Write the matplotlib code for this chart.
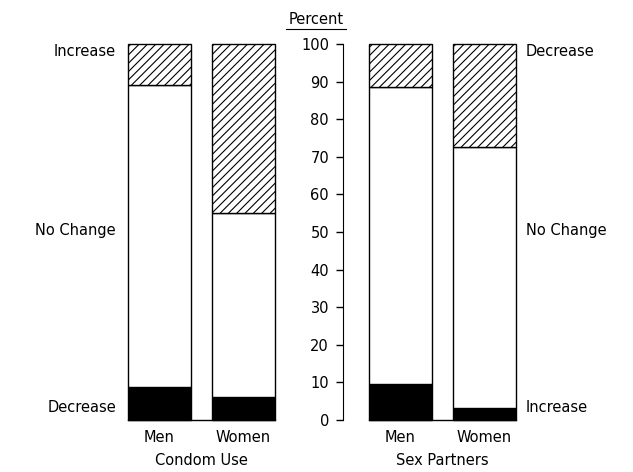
import matplotlib
matplotlib.use("Agg")
import matplotlib.pyplot as plt
from matplotlib.lines import Line2D

# values (percent)
groups = ["Condom Use", "Sex Partners"]
categories = ["Men", "Women"]
condom_decrease = [8.8, 6.0]
condom_no_change = [80.2, 49.0]
condom_increase = [11.0, 45.0]
partners_increase = [9.5, 3.3]
partners_no_change = [79.0, 69.4]
partners_decrease = [11.5, 27.3]
yticks = list(range(0, 101, 10))

plt.rc("font", family="DejaVu Sans", size=10.5)
plt.rcParams["hatch.linewidth"] = 0.8

fig = plt.figure(figsize=(6.33, 4.72), dpi=100)
# axes covers the full width; x units are pixels so layout is easy to place
ax = fig.add_axes([0, (472 - 420) / 472, 1, 376 / 472])
ax.set_xlim(0, 633)
ax.set_ylim(0, 100)

width = 63
condom_x = [159.5, 243]
partners_x = [400, 484]


def stack(ax, xs, bottom_vals, mid_vals, top_vals):
    b = ax.bar(xs, bottom_vals, width, color="black", edgecolor="black", lw=1,
               clip_on=False)
    m = ax.bar(xs, mid_vals, width, bottom=bottom_vals, color="white",
               edgecolor="black", lw=1, clip_on=False)
    base = [bv + mv for bv, mv in zip(bottom_vals, mid_vals)]
    t = ax.bar(xs, top_vals, width, bottom=base, color="white",
               edgecolor="black", lw=1, hatch="////", clip_on=False)
    # baseline joining the pair of bars
    ax.plot([xs[0] - width / 2, xs[-1] + width / 2], [0, 0], color="black",
            lw=1, clip_on=False)
    return b, m, t


stack(ax, condom_x, condom_decrease, condom_no_change, condom_increase)
stack(ax, partners_x, partners_increase, partners_no_change, partners_decrease)

# y axis in the middle
for s in ["top", "right", "bottom"]:
    ax.spines[s].set_visible(False)
ax.spines["left"].set_position(("data", 343))
ax.spines["left"].set_bounds(0, 100)
ax.set_yticks(yticks)
ax.tick_params(axis="y", direction="out", length=5, width=1, pad=5, labelsize=10.5)
ax.set_xticks([])

# category labels
for xs, g in [(condom_x, groups[0]), (partners_x, groups[1])]:
    for x, c in zip(xs, categories):
        ax.text(x, -4.6, c, ha="center", va="center", clip_on=False)
    ax.text(sum(xs) / 2, -10.7, g, ha="center", va="center", clip_on=False)

# side labels
ax.text(116, 97.9, "Increase", ha="right", va="center")
ax.text(116, 50.5, "No Change", ha="right", va="center")
ax.text(116, 3.2, "Decrease", ha="right", va="center")
ax.text(526, 97.9, "Decrease", ha="left", va="center")
ax.text(526, 50.5, "No Change", ha="left", va="center")
ax.text(526, 3.2, "Increase", ha="left", va="center")

# axis title with underline
ax.text(316, 106.6, "Percent", ha="center", va="center", clip_on=False)
fig.add_artist(Line2D([286 / 633, 346 / 633], [(472 - 29) / 472, (472 - 29) / 472],
                      color="black", lw=0.8))

fig.savefig("out.png", dpi=100)
